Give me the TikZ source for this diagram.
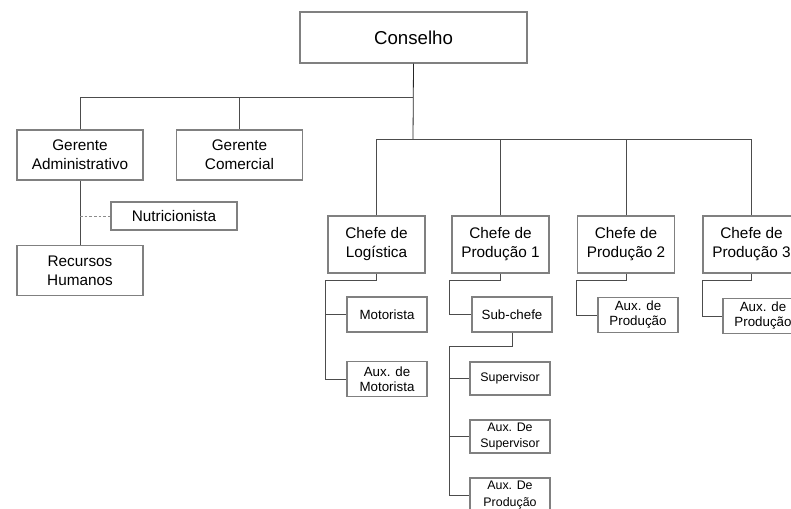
\documentclass[tikz,border=0pt]{standalone}
\usepackage{fontspec}
\setmainfont{Liberation Sans}
\usepackage{tikz}
\usetikzlibrary{calc}

\tikzset{
	caixa/.style={draw=black!50, line width=1.1pt, fill=white, align=center, inner sep=0pt},
	topo/.style={caixa, minimum width=170.25pt, minimum height=38.25pt, font=\fontsize{14}{17}\selectfont},
	cargo/.style={caixa, minimum width=94.5pt, minimum height=37.5pt, font=\fontsize{11.5}{14.2}\selectfont},
	chefe/.style={caixa, minimum width=72.75pt, minimum height=42.75pt, font=\fontsize{11.5}{14.2}\selectfont},
	auxiliar/.style={caixa, minimum width=60pt, minimum height=26.25pt, font=\fontsize{10}{11.3}\selectfont},
	equipe/.style={caixa, minimum width=60pt, minimum height=24.75pt, font=\fontsize{9.3}{12.5}\selectfont},
	ligacao/.style={draw=black!70, line width=0.6pt},
	pontilhado/.style={draw=black!45, line width=0.7pt, dash pattern=on 2pt off 1.5pt}
}

\begin{document}
\begin{tikzpicture}[x=0.75pt, y=-0.75pt]
			%%%%% START %%%%%
			
			\useasboundingbox (0, 0) rectangle (791, 509);
			\clip (0, 0) rectangle (791, 509);
			
			\node[topo] (conselho) at (413.5, 37.5) {Conselho};
			
			\node[cargo] (gadm) at (80, 155) {Gerente\\Administrativo};
			\node[cargo] (gcom) at (239.5, 155) {Gerente\\Comercial};
			\node[cargo, minimum height=21pt] (nutri) at (174, 216) {Nutricionista};
			\node[cargo] (rh) at (80, 270.5) {Recursos\\Humanos};
			
			\node[chefe] (logistica) at (376.5, 244.5) {Chefe de\\Logística};
			\node[chefe] (prod1) at (500.5, 244.5) {Chefe de\\Produção 1};
			\node[chefe] (prod2) at (626, 244.5) {Chefe de\\Produção 2};
			\node[chefe] (prod3) at (751.5, 244.5) {Chefe de\\Produção 3};
			
			\node[auxiliar] (motorista) at (387, 314.5) {Motorista};
			\node[auxiliar] (auxmot) at (387, 379) {Aux. de\\Motorista};
			\node[auxiliar] (subchefe) at (512, 314.5) {Sub-chefe};
			\node[auxiliar] (auxprod2) at (638, 315) {Aux. de\\Produção};
			\node[auxiliar] (auxprod3) at (763, 316) {Aux. de\\Produção};
			
			\node[equipe] (supervisor) at (510, 378.5) {Supervisor};
			\node[equipe] (auxsup) at (510, 436.5) {Aux. De\\Supervisor};
			\node[equipe, minimum height=25.5pt] (auxprod) at (510, 495) {Aux. De\\Produção};
			
			% barras do conselho
			\coordinate (barra1) at (413, 97);
			\coordinate (barra2) at (413, 139);
			\draw[ligacao, draw=black!85] (conselho.south) -- (barra2);
			\draw[ligacao] (gadm.north) |- (barra1);
			\draw[ligacao] (gcom.north) -- (gcom.north |- barra1);
			\draw[ligacao] (logistica.north) |- (barra2);
			\draw[ligacao] (prod1.north) -- (prod1.north |- barra2);
			\draw[ligacao] (prod2.north) -- (prod2.north |- barra2);
			\draw[ligacao] (prod3.north) |- (barra2);
			
			% administrativo
			\draw[ligacao] (gadm.south) -- (rh.north);
			\draw[pontilhado] (gadm.south |- nutri.west) -- (nutri.west);
			
			% ramos dos chefes
			\coordinate (ramo-log) at ($(logistica.south west)+(-2, 7)$);
			\draw[ligacao] (logistica.south) |- (ramo-log) |- (motorista.west);
			\draw[ligacao] (motorista.west -| ramo-log) |- (auxmot.west);
			
			\coordinate (ramo-p1) at ($(prod1.south west)+(-2, 7)$);
			\draw[ligacao] (prod1.south) |- (ramo-p1) |- (subchefe.west);
			
			\coordinate (ramo-p2) at ($(prod2.south west)+(0, 7)$);
			\draw[ligacao] (prod2.south) |- (ramo-p2) |- (auxprod2.west);
			
			\coordinate (ramo-p3) at ($(prod3.south west)+(0, 7)$);
			\draw[ligacao] (prod3.south) |- (ramo-p3) |- (auxprod3.west);
			
			\coordinate (ramo-sub) at ($(subchefe.south west)+(-22, 14)$);
			\draw[ligacao] (subchefe.south) |- (ramo-sub) |- (supervisor.west);
			\draw[ligacao] (supervisor.west -| ramo-sub) |- (auxsup.west);
			\draw[ligacao] (auxsup.west -| ramo-sub) |- (auxprod.west);
			
			%%%%% END %%%%%
\end{tikzpicture}
\end{document}
